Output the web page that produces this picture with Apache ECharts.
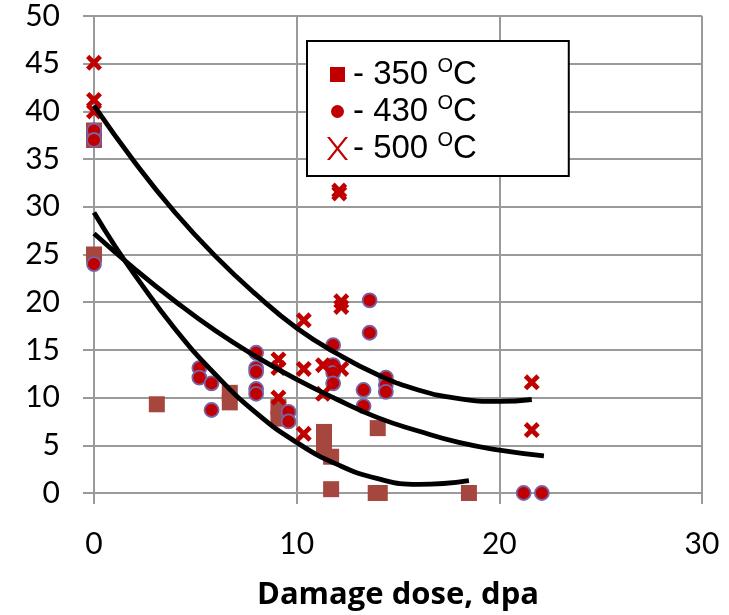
<!DOCTYPE html>
<html>
<head>
<meta charset="utf-8">
<script src="https://cdn.jsdelivr.net/npm/echarts@6/dist/echarts.min.js"></script>
<style>
html,body{margin:0;padding:0;background:#fff;}
#chart{width:729px;height:615px;}
</style>
</head>
<body>
<div id="chart"></div>
<script>
// ---- data ----
const xTicks = [0, 10, 20, 30];
const yTicks = [0, 5, 10, 15, 20, 25, 30, 35, 40, 45, 50];

const seriesNames = ['350', '430', '500'];

const pts350 = [
  [0, 38], [0, 37], [0, 25], [3.1, 9.3], [6.7, 10.5], [6.7, 9.5],
  [9.1, 9.0], [9.1, 7.8], [11.35, 6.4], [11.35, 5.6], [11.35, 4.8],
  [11.7, 3.8], [11.7, 0.4], [14.0, 6.8], [13.9, 0], [14.1, 0], [18.5, 0]
];

const pts430 = [
  [0, 38], [0, 37], [0, 24],
  [5.2, 13.1], [5.2, 12.1], [5.8, 11.5], [5.8, 8.7],
  [8.0, 14.7], [8.0, 13.1], [8.0, 12.7], [8.0, 10.9], [8.0, 10.4],
  [9.6, 8.5], [9.6, 7.5],
  [11.8, 15.5], [11.8, 13.4], [11.8, 12.6], [11.8, 11.5],
  [13.6, 20.2], [13.6, 16.8], [13.3, 10.8], [13.3, 9.1],
  [14.4, 12.1], [14.4, 11.3], [14.4, 10.6],
  [21.2, 0], [22.1, 0]
];

const pts500 = [
  [0, 45.1], [0, 41.2], [0, 40.0],
  [12.1, 31.7], [12.1, 31.4],
  [12.2, 20.1], [12.2, 19.5],
  [10.35, 18.1],
  [9.1, 14.0], [9.1, 13.1], [10.35, 13.0], [11.3, 13.4], [12.2, 13.0],
  [9.1, 10.0], [11.3, 10.4],
  [10.35, 6.2],
  [21.6, 11.6], [21.6, 6.6]
];

// trend curves
const fit500 = [
  [0, 40.6], [2, 34.7], [4, 29.4], [6, 24.8], [8, 20.8], [10, 17.3],
  [12, 14.6], [14, 12.4], [16, 10.8], [18, 9.9], [20, 9.6], [21.6, 9.8]
];
const fit430 = [
  [0, 27.2], [2, 23.5], [4, 20.1], [6, 17.0], [8, 14.3], [10, 11.9],
  [12, 9.8], [14, 7.9], [16, 6.5], [18, 5.3], [20, 4.5], [22.2, 3.9]
];
const fit350 = [
  [0, 29.4], [1, 26.0], [2, 22.9], [4, 17.2], [6, 12.4], [8, 8.4],
  [10, 5.3], [12, 3.0], [14, 1.5], [16, 0.9], [18.5, 1.3]
];

// ---- chart ----
const GRID = '#9a9a9a';
const RED = '#C00000';
const BROWN = '#A5463F';
const crossPath = 'path://M0,2.1L2.1,0L5,2.9L7.9,0L10,2.1L7.1,5L10,7.9L7.9,10L5,7.1L2.1,10L0,7.9L2.9,5Z';

const legSquare = 'path://M0,0M21,23M3,4H18V19H3Z';
const legCircle = 'path://M0,0M21,23M17,11.5A6.5,6.5,0,1,1,4,11.5A6.5,6.5,0,1,1,17,11.5Z';
const legX = 'path://M0,0L2.8,0L10.5,9.8L18.2,0L21,0L11.9,11.5L21,23L18.2,23L10.5,13.2L2.8,23L0,23L9.1,11.5Z';

const chart = echarts.init(document.getElementById('chart'), null, {renderer: 'canvas'});

const labelFont = {fontFamily: 'Lato', fontSize: 30, color: '#000'};

const option = {
  animation: false,
  backgroundColor: '#fff',
  grid: {left: 94, right: 27, top: 16, bottom: 122, containLabel: false, outerBoundsMode: 'none'},
  xAxis: {
    type: 'value', min: xTicks[0], max: xTicks[xTicks.length - 1], interval: 10,
    name: 'Damage dose, dpa', nameLocation: 'middle', nameGap: 87,
    nameTextStyle: {fontFamily: 'Open Sans', fontWeight: 'bold', fontSize: 31, color: '#000'},
    axisLine: {show: true, lineStyle: {color: GRID, width: 2}},
    axisTick: {show: true, length: 11, lineStyle: {color: GRID, width: 2}},
    axisLabel: Object.assign({margin: 36}, labelFont),
    splitLine: {show: true, lineStyle: {color: GRID, width: 2}}
  },
  yAxis: {
    type: 'value', min: yTicks[0], max: yTicks[yTicks.length - 1], interval: 5,
    axisLine: {show: true, lineStyle: {color: GRID, width: 2}},
    axisTick: {show: true, length: 11, lineStyle: {color: GRID, width: 2}},
    axisLabel: Object.assign({margin: 34}, labelFont),
    splitLine: {show: true, lineStyle: {color: GRID, width: 2}}
  },
  legend: {
    orient: 'vertical', left: 307, top: 41,
    padding: [15, 92, 9, 20],
    itemWidth: 21, itemHeight: 23, itemGap: 0,
    borderColor: '#000', borderWidth: 2, backgroundColor: '#fff',
    selectedMode: false,
    formatter: function (n) { return '- ' + n + ' {s|O}C'; },
    textStyle: {
      fontFamily: "'Liberation Sans', Arial, sans-serif", fontSize: 33, color: '#000', lineHeight: 37,
      rich: {s: {fontFamily: "'Liberation Sans', Arial, sans-serif", fontSize: 20, color: '#000', verticalAlign: 'top', lineHeight: 22}}
    },
    data: [
      {name: seriesNames[0], icon: legSquare, itemStyle: {color: RED, borderWidth: 0}},
      {name: seriesNames[1], icon: legCircle, itemStyle: {color: RED, borderWidth: 0}},
      {name: seriesNames[2], icon: legX, itemStyle: {color: RED, borderWidth: 0}}
    ]
  },
  series: [
    {
      name: seriesNames[0], type: 'scatter', data: pts350, symbol: 'rect', symbolSize: 16, z: 2,
      itemStyle: {color: BROWN, opacity: 1}
    },
    {
      name: seriesNames[1], type: 'scatter', data: pts430, symbol: 'circle', symbolSize: 14, z: 3,
      itemStyle: {color: RED, borderColor: '#7763A8', borderWidth: 1.8, opacity: 1}
    },
    {
      name: seriesNames[2], type: 'scatter', data: pts500, symbol: crossPath, symbolSize: 16, z: 4,
      itemStyle: {color: RED, opacity: 1}
    },
    {type: 'line', data: fit500, smooth: true, showSymbol: false, z: 5, silent: true,
      lineStyle: {color: '#000', width: 4.8}},
    {type: 'line', data: fit430, smooth: true, showSymbol: false, z: 5, silent: true,
      lineStyle: {color: '#000', width: 4.8}},
    {type: 'line', data: fit350, smooth: true, showSymbol: false, z: 5, silent: true,
      lineStyle: {color: '#000', width: 4.8}}
  ]
};
chart.setOption(option);
</script>
</body>
</html>
